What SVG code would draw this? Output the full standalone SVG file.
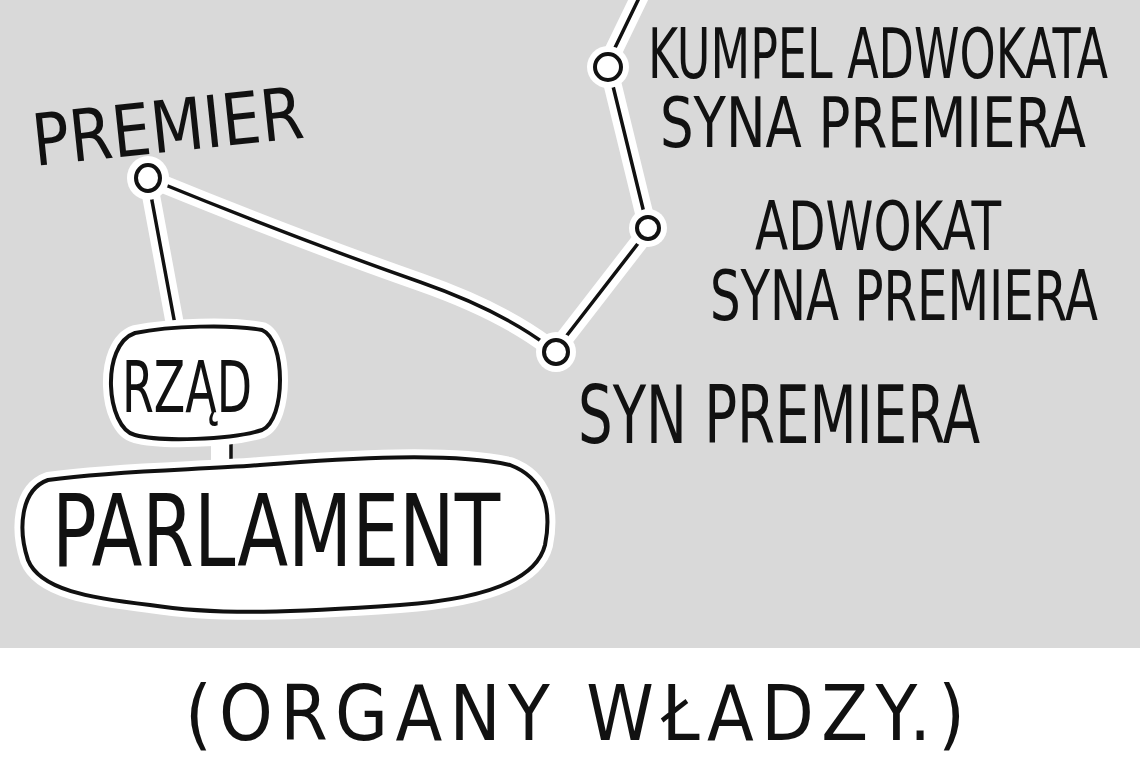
<svg xmlns="http://www.w3.org/2000/svg" width="1140" height="760" viewBox="0 0 1140 760">
  <style>
    .t { font-family: "Liberation Sans Narrow", "DejaVu Sans Condensed", "Noto Sans", sans-serif; fill: #111; }
    .halo { fill: none; stroke: #ffffff; stroke-width: 18; stroke-linecap: round; stroke-linejoin: round; }
    .ln { fill: none; stroke: #111; stroke-width: 3.5; stroke-linecap: round; stroke-linejoin: round; }
    .dot { fill: #ffffff; stroke: #111; stroke-width: 4; }
    .dothalo { fill: #ffffff; }
    .bub { fill: #ffffff; stroke: #111; stroke-width: 4; stroke-linejoin: round; }
    .bubhalo { fill: #ffffff; stroke: #ffffff; stroke-width: 16; stroke-linejoin: round; }
  </style>
  <rect x="0" y="0" width="1140" height="648" fill="#d9d9d9"/>
  <rect x="0" y="648" width="1140" height="112" fill="#ffffff"/>

  <g id="connectors">
    <path class="halo" d="M 158 182 Q 300 240 420 282 Q 500 310 548 346"/>
    <path class="halo" d="M 150 190 L 176 330"/>
    <path class="halo" d="M 561 343 L 643 237"/>
    <path class="halo" d="M 645 217 L 612 82"/>
    <path class="halo" d="M 611 56 L 640 -4"/>
    <path class="ln" d="M 158 182 Q 300 240 420 282 Q 500 310 548 346"/>
    <path class="ln" d="M 150 190 L 176 330"/>
    <path class="ln" d="M 561 343 L 643 237"/>
    <path class="ln" d="M 645 217 L 612 82"/>
    <path class="ln" d="M 611 56 L 640 -4"/>
    <rect x="211" y="436" width="21" height="30" fill="#ffffff"/>
    <path class="ln" d="M 231 440 L 231 462"/>
  </g>

  <g id="node-premier">
    <ellipse class="dothalo" cx="148" cy="178" rx="21" ry="22"/>
    <ellipse class="dot" cx="148" cy="178" rx="12" ry="13"/>
    <text class="t" x="35" y="166" font-size="72" textLength="272" lengthAdjust="spacingAndGlyphs" transform="rotate(-6 35 166)">PREMIER</text>
  </g>

  <g id="node-syn">
    <circle class="dothalo" cx="556" cy="352" r="20"/>
    <circle class="dot" cx="556" cy="352" r="12"/>
    <text class="t" x="578" y="443" font-size="80" textLength="402" lengthAdjust="spacingAndGlyphs">SYN PREMIERA</text>
  </g>

  <g id="node-adwokat">
    <circle class="dothalo" cx="648" cy="228" r="19"/>
    <circle class="dot" cx="648" cy="228" r="11"/>
    <text class="t" x="755" y="250" font-size="68" textLength="246" lengthAdjust="spacingAndGlyphs">ADWOKAT</text>
    <text class="t" x="710" y="320" font-size="70" textLength="388" lengthAdjust="spacingAndGlyphs">SYNA PREMIERA</text>
  </g>

  <g id="node-kumpel">
    <circle class="dothalo" cx="608" cy="67" r="21"/>
    <circle class="dot" cx="608" cy="67" r="13"/>
    <text class="t" x="648" y="78" font-size="70" textLength="460" lengthAdjust="spacingAndGlyphs">KUMPEL ADWOKATA</text>
    <text class="t" x="660" y="147" font-size="70" textLength="426" lengthAdjust="spacingAndGlyphs">SYNA PREMIERA</text>
  </g>

  <g id="node-rzad">
    <path class="bubhalo" d="M 135 333 C 170 326, 230 324, 262 330 C 286 340, 286 420, 262 430 C 230 440, 160 442, 135 435 C 106 428, 100 345, 135 333 Z"/>
    <path class="bub" d="M 135 333 C 170 326, 230 324, 262 330 C 286 340, 286 420, 262 430 C 230 440, 160 442, 135 435 C 106 428, 100 345, 135 333 Z"/>
    <text class="t" x="122" y="412" font-size="72" textLength="130" lengthAdjust="spacingAndGlyphs">RZĄD</text>
  </g>

  <g id="node-parlament">
    <path class="bubhalo" d="M 48 480 C 120 470, 200 470, 260 465 C 350 458, 450 452, 510 465 C 545 478, 552 510, 545 545 C 535 585, 470 600, 400 605 C 300 612, 220 616, 150 605 C 90 598, 40 590, 28 560 C 18 530, 20 490, 48 480 Z"/>
    <path class="bub" d="M 48 480 C 120 470, 200 470, 260 465 C 350 458, 450 452, 510 465 C 545 478, 552 510, 545 545 C 535 585, 470 600, 400 605 C 300 612, 220 616, 150 605 C 90 598, 40 590, 28 560 C 18 530, 20 490, 48 480 Z"/>
    <text class="t" x="52" y="566" font-size="100" textLength="448" lengthAdjust="spacingAndGlyphs">PARLAMENT</text>
  </g>

  <g id="caption">
    <text class="t" x="185" y="740" font-size="76" textLength="780" lengthAdjust="spacing">(ORGANY WŁADZY.)</text>
  </g>
</svg>
